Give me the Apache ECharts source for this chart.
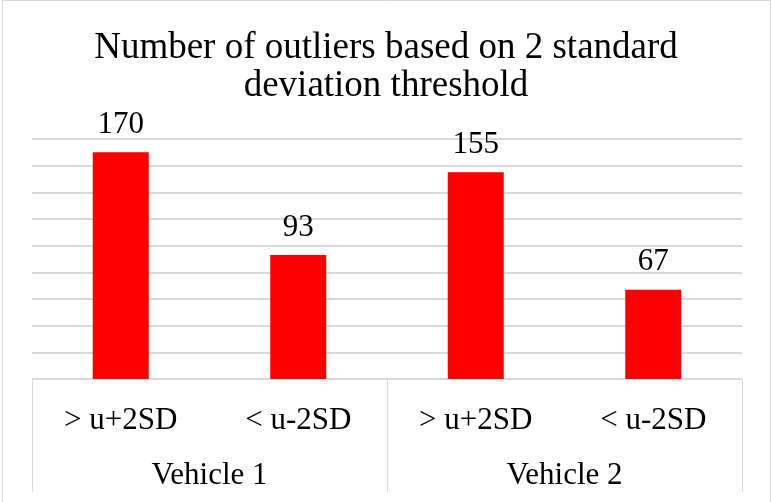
<!DOCTYPE html>
<html>
<head>
<meta charset="utf-8">
<script src="https://cdn.jsdelivr.net/npm/echarts@6/dist/echarts.min.js"></script>
<style>
  html, body { margin: 0; padding: 0; background: #fff; }
  #main { width: 772px; height: 502px; }
</style>
</head>
<body>
<div id="main"></div>
<script>
var categories = ['> u+2SD', '< u-2SD', '> u+2SD', '< u-2SD'];
var groups = ['Vehicle 1', 'Vehicle 2'];
var outliers = [170, 93, 155, 67];

var chart = echarts.init(document.getElementById('main'));
var serif = '"Liberation Serif", "Times New Roman", serif';

var option = {
  backgroundColor: '#ffffff',
  animation: false,
  title: {
    text: 'Number of outliers based on 2 standard\ndeviation threshold',
    left: 'center',
    top: 24,
    textStyle: {
      fontFamily: serif,
      fontWeight: 'normal',
      fontSize: 37,
      lineHeight: 38,
      color: '#000'
    }
  },
  graphic: [{
    type: 'rect',
    silent: true,
    shape: { x: 2.5, y: 0.5, width: 768, height: 520 },
    style: { fill: 'none', stroke: '#d9d9d9', lineWidth: 1 }
  }],
  grid: { left: 32, right: 30, top: 139, bottom: 123 },
  xAxis: [{
    type: 'category',
    data: categories,
    axisLine: { lineStyle: { color: '#d9d9d9', width: 1 } },
    axisTick: { show: false },
    axisLabel: {
      interval: 0,
      margin: 26,
      fontFamily: serif,
      fontSize: 31,
      color: '#000'
    }
  }, {
    type: 'category',
    position: 'bottom',
    data: groups,
    axisLine: { show: false },
    axisTick: { show: true, length: 113, lineStyle: { color: '#d9d9d9', width: 1 } },
    axisLabel: {
      interval: 0,
      margin: 81,
      fontFamily: serif,
      fontSize: 31,
      color: '#000'
    }
  }],
  yAxis: {
    type: 'value',
    min: 0,
    max: 180,
    interval: 20,
    axisLabel: { show: false },
    axisLine: { show: false },
    axisTick: { show: false },
    splitLine: { lineStyle: { color: '#d9d9d9', width: 2 } }
  },
  series: [{
    type: 'bar',
    xAxisIndex: 0,
    data: outliers,
    barWidth: 56,
    itemStyle: { color: '#ff0000' },
    label: {
      show: true,
      position: 'top',
      distance: 12,
      fontFamily: serif,
      fontSize: 31,
      color: '#000'
    }
  }]
};

chart.setOption(option);
</script>
</body>
</html>
